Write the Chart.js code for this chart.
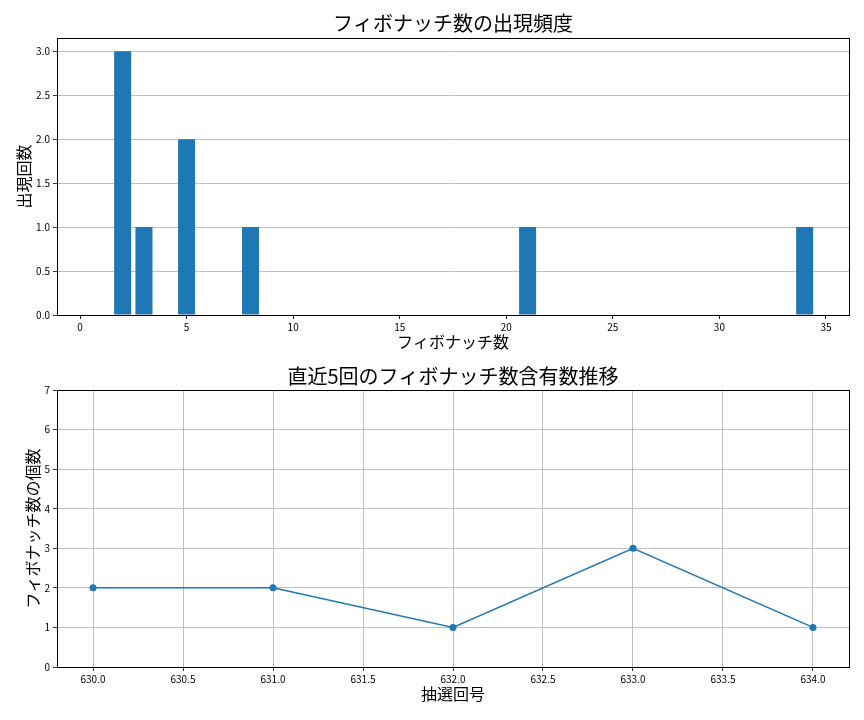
<!DOCTYPE html>
<html>
<head>
<meta charset="utf-8">
<script src="https://cdn.jsdelivr.net/npm/chart.js@4"></script>
<style>
  html, body { margin: 0; padding: 0; background: #fff; }
  .box { position: absolute; left: 0; width: 864px; height: 360px; }
</style>
</head>
<body>
<div class="box" style="top:0"><canvas id="freqChart" width="864" height="360"></canvas></div>
<div class="box" style="top:360px"><canvas id="trendChart" width="864" height="360"></canvas></div>
<script>
// Fibonacci numbers and how often they came out
const fibNumbers = [1, 2, 3, 5, 8, 13, 21, 34];
const fibCounts  = [0, 3, 1, 2, 1, 0, 1, 1];

// last 5 draws
const drawNumbers = [630, 631, 632, 633, 634];
const fibPerDraw  = [2, 2, 1, 3, 1];

const FONT = "'Noto Sans CJK JP', 'Noto Sans', sans-serif";
const BLUE = '#1f77b4';
const GRID = '#b0b0b0';

Chart.defaults.font.family = FONT;
Chart.defaults.color = '#000';

// black frame around the plot area, like matplotlib spines
const frame = {
    id: 'frame',
    afterDraw(chart) {
        const a = chart.chartArea, ctx = chart.ctx;
        ctx.save();
        ctx.strokeStyle = '#000';
        ctx.lineWidth = 1;
        ctx.strokeRect(Math.round(a.left) + 0.5, Math.round(a.top) + 0.5,
            Math.round(a.right - a.left), Math.round(a.bottom - a.top));
        ctx.restore();
    }
};

// title centred over the plot area (matplotlib style) instead of the canvas
const axTitle = {
    id: 'axTitle',
    afterDraw(chart, args, opts) {
        const a = chart.chartArea, ctx = chart.ctx;
        ctx.save();
        ctx.font = '20px ' + FONT;
        ctx.fillStyle = '#000';
        ctx.textAlign = 'center';
        ctx.textBaseline = 'middle';
        ctx.fillText(opts.text, (a.left + a.right) / 2, opts.y);
        ctx.restore();
    }
};

function pinWidth(w) { return (s) => { s.width = w; }; }
function pinHeight(h) { return (s) => { s.height = h; }; }

new Chart(document.getElementById('freqChart'), {
    type: 'bar',
    data: {
        datasets: [{
            data: fibNumbers.map((n, i) => ({ x: n, y: fibCounts[i] })),
            backgroundColor: BLUE,
            categoryPercentage: 1,
            barPercentage: 0.8
        }]
    },
    options: {
        responsive: false,
        animation: false,
        devicePixelRatio: 1,
        layout: { padding: { left: 0, right: 15, top: 38, bottom: 0 } },
        plugins: {
            legend: { display: false },
            tooltip: { enabled: false },
            title: { display: false },
            axTitle: { text: 'フィボナッチ数の出現頻度', y: 23 }
        },
        scales: {
            x: {
                type: 'linear',
                offset: false,
                min: -1.08,
                max: 36.08,
                afterFit: pinHeight(45),
                afterBuildTicks: (s) => { s.ticks = [0, 5, 10, 15, 20, 25, 30, 35].map(v => ({ value: v })); },
                ticks: { font: { size: 10 }, maxRotation: 0, padding: 2 },
                grid: { offset: false, color: 'rgba(0,0,0,0)', tickColor: '#000', tickLength: 4 },
                border: { color: '#000' },
                title: {
                    display: true,
                    text: 'フィボナッチ数',
                    font: { size: 16 },
                    padding: { top: 0, bottom: 8 }
                }
            },
            y: {
                min: 0,
                max: 3.15,
                afterFit: pinWidth(57),
                afterBuildTicks: (s) => { s.ticks = [0, 0.5, 1, 1.5, 2, 2.5, 3].map(v => ({ value: v })); },
                ticks: { font: { size: 10 }, padding: 3, callback: (v) => v.toFixed(1) },
                grid: { color: GRID, lineWidth: 0.8, tickColor: '#000', tickLength: 4 },
                border: { color: '#000' },
                title: {
                    display: true,
                    text: '出現回数',
                    font: { size: 16 },
                    padding: { top: 14, bottom: 0 }
                }
            }
        }
    },
    plugins: [frame, axTitle]
});

new Chart(document.getElementById('trendChart'), {
    type: 'line',
    data: {
        datasets: [{
            data: drawNumbers.map((n, i) => ({ x: n, y: fibPerDraw[i] })),
            borderColor: BLUE,
            backgroundColor: BLUE,
            borderWidth: 1.5,
            pointRadius: 3.5,
            pointBorderWidth: 0,
            tension: 0
        }]
    },
    options: {
        responsive: false,
        animation: false,
        devicePixelRatio: 1,
        layout: { padding: { left: 0, right: 15, top: 30, bottom: 0 } },
        plugins: {
            legend: { display: false },
            tooltip: { enabled: false },
            title: { display: false },
            axTitle: { text: '直近5回のフィボナッチ数含有数推移', y: 16 }
        },
        scales: {
            x: {
                type: 'linear',
                min: 629.8,
                max: 634.2,
                afterFit: pinHeight(53),
                afterBuildTicks: (s) => { s.ticks = [630, 630.5, 631, 631.5, 632, 632.5, 633, 633.5, 634].map(v => ({ value: v })); },
                ticks: { font: { size: 10 }, maxRotation: 0, padding: 2, callback: (v) => v.toFixed(1) },
                grid: { color: GRID, lineWidth: 0.8, tickColor: '#000', tickLength: 4 },
                border: { color: '#000' },
                title: {
                    display: true,
                    text: '抽選回号',
                    font: { size: 16 },
                    padding: { top: 0, bottom: 16 }
                }
            },
            y: {
                min: 0,
                max: 7,
                afterFit: pinWidth(57),
                ticks: { font: { size: 10 }, stepSize: 1, padding: 3 },
                grid: { color: GRID, lineWidth: 0.8, tickColor: '#000', tickLength: 4 },
                border: { color: '#000' },
                title: {
                    display: true,
                    text: 'フィボナッチ数の個数',
                    font: { size: 16 },
                    padding: { top: 23, bottom: 0 }
                }
            }
        }
    },
    plugins: [frame, axTitle]
});
</script>
</body>
</html>
